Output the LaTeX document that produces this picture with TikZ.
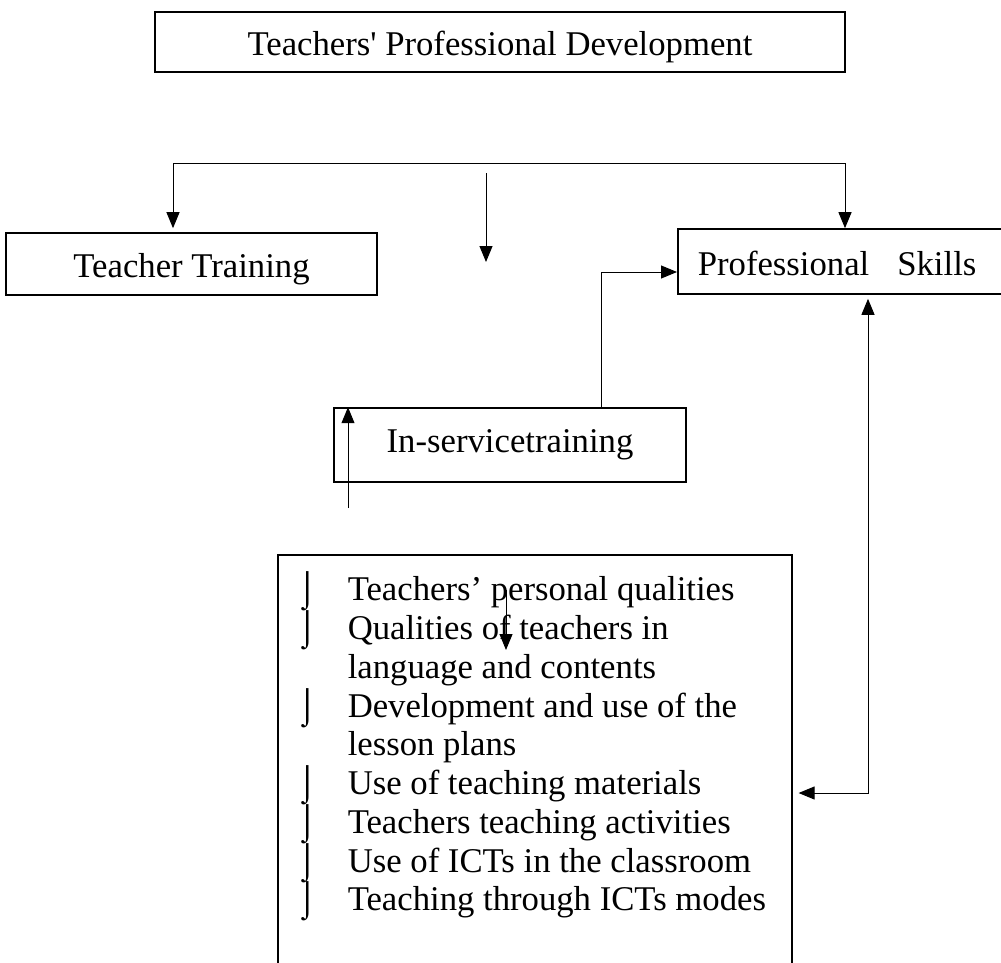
\documentclass[tikz,border=0pt]{standalone}
\usepackage{fontspec}
\setmainfont{Liberation Serif}
\usepackage{tikz}
\usetikzlibrary{arrows.meta}
\usetikzlibrary{positioning}
\newcommand{\skillpoint}[1]{\makebox[48pt][l]{\hspace{-3pt}\smash{⌡}}#1}
\newcommand{\skillcont}[1]{\hspace*{48pt}#1}

\begin{document}
\begin{tikzpicture}[x=1pt,y=-1pt,>={Triangle[length=16pt,width=13pt]},line width=1pt,
	font=\fontsize{34.7}{38.75}\selectfont,
	main node/.style={rectangle, draw, line width=1.6pt, inner sep=0pt, align=center},
	low text/.style={text height=34pt, text depth=7pt}]

	\useasboundingbox (0,0) rectangle (1001,963);

	\node[main node, low text, minimum width=690pt, minimum height=60pt] at (500,42) (1) {Teachers\textquotesingle{} Professional Development};
	\node[main node, low text, minimum width=371pt, minimum height=62pt] at (191.5,264) (2) {Teacher Training};
	\node[main node, low text, anchor=west, minimum height=65pt, inner xsep=20pt, text width=292pt, align=left] at (677,261.5) (3) {Professional\hspace{28pt}Skills};
	\node[main node, minimum width=352pt, minimum height=74pt] at (510,445) (4) {In-servicetraining};
	\node[main node, anchor=north west, inner xsep=22pt, inner ysep=22pt, align=left] at (277,554) (5) {\parbox[t][430pt][t]{470pt}{%
		\skillpoint{Teachers’ personal qualities}\\
		\skillpoint{Qualities of teachers in}\\
		\skillcont{language and contents}\\
		\skillpoint{Development and use of the}\\
		\skillcont{lesson plans}\\
		\skillpoint{Use of teaching materials}\\
		\skillpoint{Teachers teaching activities}\\
		\skillpoint{Use of ICTs in the classroom}\\
		\skillpoint{Teaching through ICTs modes}}};

	\coordinate (fork west) at (173,163);
	\coordinate (fork east) at (845,163);
	\coordinate (stray top) at (486,173);
	\coordinate (stray tip) at (486,262);
	\coordinate (rise foot) at (348,508);
	\coordinate (drop top) at (506,590);
	\coordinate (drop tip) at (506,650);
	\coordinate (loop corner) at (868,793);

	\draw[<->, shorten <=4pt] (2.north -| fork west) -- (fork west) -- (fork east) -- (3.north -| fork east);
	\draw[->] (stray top) -- (stray tip);
	\draw[->] ([xshift=91pt]4.north) |- ([yshift=-10.5pt]3.west);
	\draw[->] (rise foot) -- (rise foot |- 4.north);
	\draw[->] (drop top) -- (drop tip);
	\draw[<->, shorten <=4pt, shorten >=6pt] (3.south -| loop corner) -- (loop corner) -- (5.east |- loop corner);

\end{tikzpicture}
\end{document}
